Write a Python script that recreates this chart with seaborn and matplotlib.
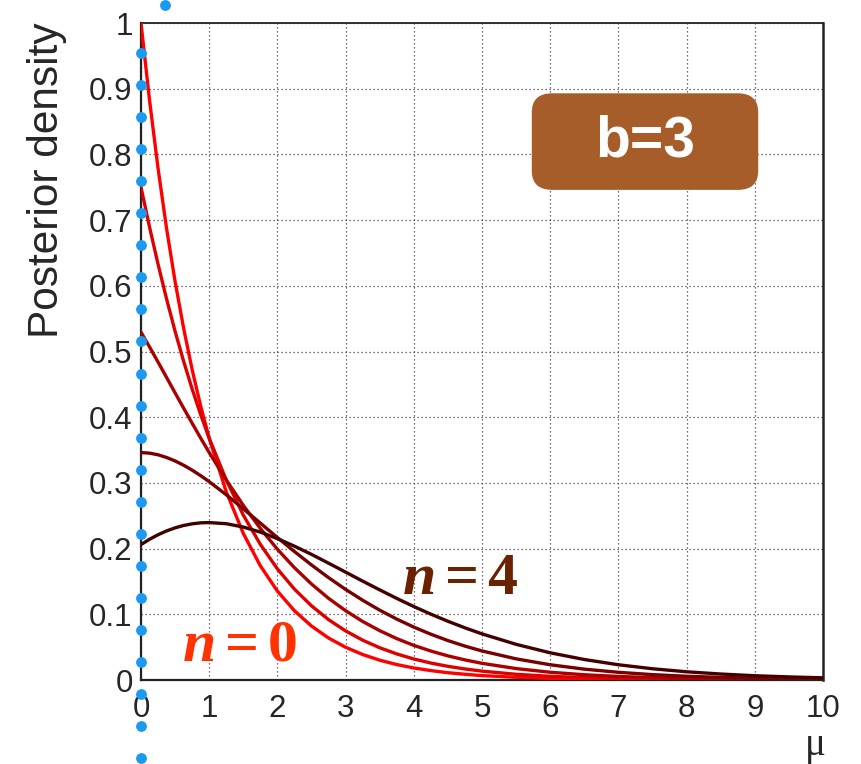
import matplotlib
matplotlib.use("Agg")
import matplotlib.pyplot as plt
from matplotlib.patches import FancyBboxPatch
from matplotlib.lines import Line2D
from matplotlib.ticker import MultipleLocator
import seaborn as sns
import pandas as pd

# Posterior density p(mu | n) for a Poisson count with known background b = 3
mu = [0, 0.125, 0.25, 0.375, 0.5, 0.625, 0.75, 0.875, 1, 1.25, 1.5, 1.75, 2,
      2.25, 2.5, 2.75, 3, 3.25, 3.5, 3.75, 4, 4.25, 4.5, 4.75, 5, 5.5, 6, 6.5,
      7, 7.5, 8, 8.5, 9, 9.5, 10]
post_n0 = [1.0, 0.8825, 0.7788, 0.6873, 0.6065, 0.5353, 0.4724, 0.4169, 0.3679,
           0.2865, 0.2231, 0.1738, 0.1353, 0.1054, 0.0821, 0.0639, 0.0498, 0.0388,
           0.0302, 0.0235, 0.0183, 0.0143, 0.0111, 0.0087, 0.0067, 0.0041, 0.0025,
           0.0015, 0.0009, 0.0006, 0.0003, 0.0002, 0.0001, 0.0001, 0.0000]
post_n1 = [0.75, 0.6895, 0.6328, 0.5799, 0.5307, 0.4851, 0.4429, 0.4039, 0.3679,
           0.3044, 0.2510, 0.2064, 0.1691, 0.1383, 0.1129, 0.0919, 0.0747, 0.0606,
           0.0491, 0.0397, 0.0320, 0.0258, 0.0208, 0.0168, 0.0135, 0.0087, 0.0056,
           0.0036, 0.0023, 0.0015, 0.0009, 0.0006, 0.0004, 0.0002, 0.0001]
post_n2 = [0.5294, 0.5070, 0.4839, 0.4605, 0.4370, 0.4138, 0.3908, 0.3682, 0.3462,
           0.3044, 0.2658, 0.2307, 0.1990, 0.1709, 0.1461, 0.1243, 0.1055, 0.0891,
           0.0751, 0.0630, 0.0527, 0.0441, 0.0367, 0.0306, 0.0254, 0.0174, 0.0118,
           0.0080, 0.0054, 0.0036, 0.0024, 0.0016, 0.0010, 0.0007, 0.0005]
post_n3 = [0.3462, 0.3453, 0.3428, 0.3387, 0.3334, 0.3269, 0.3194, 0.3110, 0.3019,
           0.2820, 0.2606, 0.2388, 0.2168, 0.1955, 0.1751, 0.1558, 0.1379, 0.1214,
           0.1063, 0.0927, 0.0805, 0.0697, 0.0600, 0.0516, 0.0442, 0.0322, 0.0232,
           0.0165, 0.0117, 0.0082, 0.0057, 0.0040, 0.0027, 0.0019, 0.0013]
post_n4 = [0.2061, 0.2142, 0.2211, 0.2269, 0.2316, 0.2352, 0.2377, 0.2392, 0.2396,
           0.2379, 0.2328, 0.2251, 0.2152, 0.2037, 0.1912, 0.1778, 0.1642, 0.1505,
           0.1372, 0.1242, 0.1118, 0.1002, 0.0894, 0.0794, 0.0702, 0.0543, 0.0414,
           0.0312, 0.0232, 0.0171, 0.0125, 0.0091, 0.0065, 0.0047, 0.0033]
counts = [0, 1, 2, 3, 4]
series = [post_n0, post_n1, post_n2, post_n3, post_n4]
x_ticks = [0, 1, 2, 3, 4, 5, 6, 7, 8, 9, 10]
y_ticks = [0, 0.1, 0.2, 0.3, 0.4, 0.5, 0.6, 0.7, 0.8, 0.9, 1]
y_tick_labels = ["0", "0.1", "0.2", "0.3", "0.4", "0.5", "0.6", "0.7", "0.8", "0.9", "1"]

curve_colors = {0: "#ff0000", 1: "#dd0000", 2: "#aa0000", 3: "#780000", 4: "#420000"}

rows = []
for n, vals in zip(counts, series):
    for m, p in zip(mu, vals):
        rows.append({"mu": m, "density": p, "n": n})
df = pd.DataFrame(rows)

sns.set_style("white")
plt.rcParams["font.family"] = ["Liberation Sans", "DejaVu Sans"]
plt.rcParams["mathtext.fontset"] = "custom"
plt.rcParams["mathtext.it"] = "Liberation Serif:italic:bold"
plt.rcParams["mathtext.rm"] = "Liberation Serif:bold"

W, H = 861, 764
fig = plt.figure(figsize=(W / 100, H / 100), dpi=100)
ax = fig.add_axes([141 / W, 1 - 680 / H, 682 / W, 657 / H])

sns.lineplot(data=df, x="mu", y="density", hue="n", palette=curve_colors,
             linewidth=2.4, sort=False, legend=False, ax=ax, zorder=3)

ax.set_xlim(0, 10)
ax.set_ylim(0, 1)
ax.set_xticks(x_ticks)
ax.set_xticklabels([str(t) for t in x_ticks])
ax.set_yticks(y_ticks)
ax.set_yticklabels(y_tick_labels)
ax.xaxis.set_minor_locator(MultipleLocator(0.2))
ax.yaxis.set_minor_locator(MultipleLocator(0.02))

ax.tick_params(axis="both", which="both", direction="in", labelsize=22.5,
               color="#222222", width=1.0, top=False, right=False)
ax.tick_params(axis="y", which="major", length=14, pad=6)
ax.tick_params(axis="y", which="minor", length=7)
ax.tick_params(axis="x", which="major", length=11, pad=10)
ax.tick_params(axis="x", which="minor", length=6)

ax.grid(True, which="major", color="#444444", linestyle=(0, (1, 2.2)), linewidth=0.9)
for side in ["left", "bottom", "top", "right"]:
    ax.spines[side].set_visible(True)
    ax.spines[side].set_color("#222222")
ax.spines["left"].set_linewidth(1.6)
ax.spines["bottom"].set_linewidth(1.6)
ax.spines["top"].set_linewidth(1.3)
ax.spines["right"].set_linewidth(1.8)

ax.set_xlabel("")
ax.set_ylabel("")
fig.text(826 / W, 1 - 746 / H, "μ", fontsize=28, ha="right", va="center",
         family=["Liberation Serif", "DejaVu Serif"])
fig.text(47 / W, 1 - 22 / H, "Posterior density", fontsize=30.5, rotation=90,
         ha="center", va="top")

# background label box
box = FancyBboxPatch((0.573, 0.746), 0.332, 0.147,
                     boxstyle="round,pad=0,rounding_size=0.03",
                     transform=ax.transAxes, facecolor="#a65d29",
                     edgecolor="none", zorder=5, mutation_aspect=657 / 682)
ax.add_patch(box)
ax.text(0.7395, 0.8195, "b=3", transform=ax.transAxes, color="white",
        fontsize=41, fontweight="bold", ha="center", va="center", zorder=6)

# curve labels
ax.text(0.144, 0.053, r"$n\mathrm{=0}$", transform=ax.transAxes,
        color="#ff3300", fontsize=43, ha="center", va="center", zorder=6)
ax.text(0.468, 0.155, r"$n\mathrm{=4}$", transform=ax.transAxes,
        color="#6b2200", fontsize=43, ha="center", va="center", zorder=6)

# dotted blue guide along mu = 0
dot_y = [53 + 32.05 * k for k in range(23)]
fig.add_artist(Line2D([141 / W] * len(dot_y), [1 - y / H for y in dot_y],
                      transform=fig.transFigure, linestyle="none", marker="o",
                      markersize=7.8, color="#1a9af0", markeredgewidth=0,
                      zorder=10))
fig.add_artist(Line2D([165 / W], [1 - 5 / H], transform=fig.transFigure,
                      linestyle="none", marker="o", markersize=7.8,
                      color="#1a9af0", markeredgewidth=0, zorder=10))

fig.savefig("out.png", dpi=100)
